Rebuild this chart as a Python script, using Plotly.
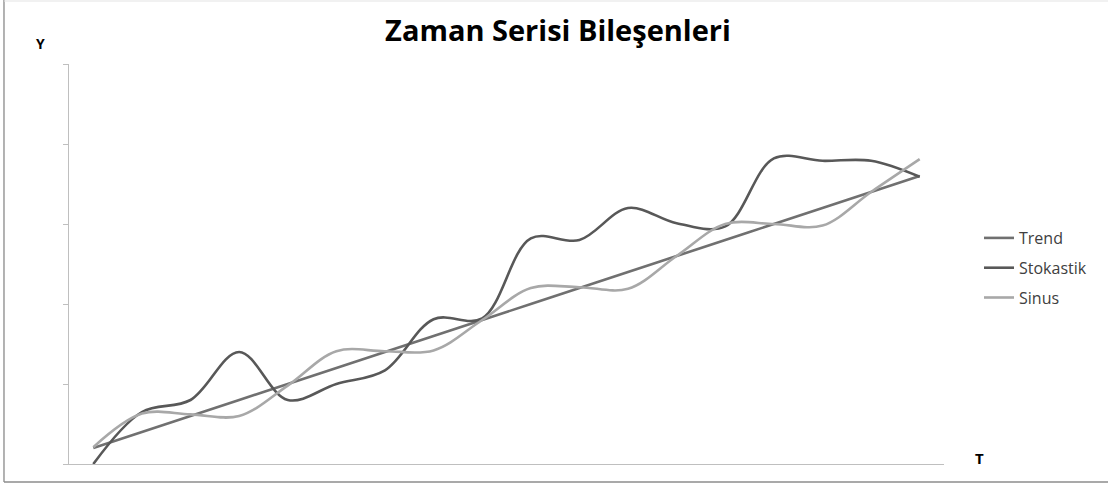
import plotly.graph_objects as go

# Categories (time index T)
t_labels = [str(i) for i in range(1, 19)]

trend = [2, 4, 6, 8, 10, 12, 14, 16, 18, 20, 22, 24, 26, 28, 30, 32, 34, 36]
stokastik = [0, 6.5, 8, 14, 8, 10, 11.7, 18.1, 18.2, 28.2, 28, 32, 30.1, 29.7, 38.2, 37.9, 37.9, 35.9]
sinus = [2.1, 6.3, 6.2, 6, 9.8, 14.1, 14.1, 14.2, 18, 22, 22.1, 21.9, 26, 30, 30, 29.8, 34, 38.1]

series_names = ["Trend", "Stokastik", "Sinus"]
series_colors = ["#707070", "#585858", "#a8a8a8"]

fig = go.Figure()
for name, vals, col in zip(series_names, [trend, stokastik, sinus], series_colors):
    fig.add_trace(go.Scatter(
        x=t_labels, y=vals, name=name, mode="lines",
        line=dict(color=col, width=2.6, shape="spline", smoothing=1.0),
        legendgroup=name,
    ))

fig.update_layout(
    width=1108, height=485,
    margin=dict(l=69, r=164, t=64, b=21),
    paper_bgcolor="white", plot_bgcolor="white",
    font=dict(family="Open Sans, Liberation Sans, sans-serif", color="#404040"),
    title=dict(text="<b>Zaman Serisi Bileşenleri</b>", x=0.5036, xanchor="center",
               y=0.936, yanchor="middle", xref="container", yref="container",
               font=dict(size=29, color="#000000", family="Open Sans, sans-serif")),
    showlegend=True,
    legend=dict(x=1.04, xanchor="left", y=0.49, yanchor="middle",
                font=dict(size=16, color="#404040"), tracegroupgap=6,
                bgcolor="rgba(0,0,0,0)"),
    xaxis=dict(type="category", range=[-0.5, 17.5], showline=True, linecolor="#bfbfbf",
               linewidth=1, showgrid=False, zeroline=False, showticklabels=False,
               ticks=""),
    yaxis=dict(range=[0, 50], dtick=10, showline=True, linecolor="#bfbfbf", linewidth=1,
               ticks="outside", ticklen=5, tickcolor="#bfbfbf", showgrid=False,
               zeroline=False, showticklabels=False),
    annotations=[
        dict(text="<b>Y</b>", xref="paper", yref="paper", x=-0.0331, y=1.0525,
             xanchor="center", yanchor="middle",
             showarrow=False, font=dict(size=14, color="#000000")),
        dict(text="<b>T</b>", xref="paper", yref="paper", x=1.041, y=0.015,
             xanchor="center", yanchor="middle",
             showarrow=False, font=dict(size=15, color="#000000")),
    ],
    shapes=[
        dict(type="line", xref="paper", yref="paper", x0=-0.0743, x1=-0.0743, y0=-0.045, y1=1.16,
             line=dict(color="#999999", width=1.5)),
        dict(type="line", xref="paper", yref="paper", x0=-0.0743, x1=1.2, y0=-0.045, y1=-0.045,
             line=dict(color="#8c8c8c", width=1.5)),
        dict(type="line", xref="paper", yref="paper", x0=-0.0743, x1=1.2, y0=1.1575, y1=1.1575,
             line=dict(color="#e3e3e3", width=1)),
    ],
)

fig.write_html("out.html", config={"displayModeBar": False},
               post_script="document.body.style.margin='0px';")
